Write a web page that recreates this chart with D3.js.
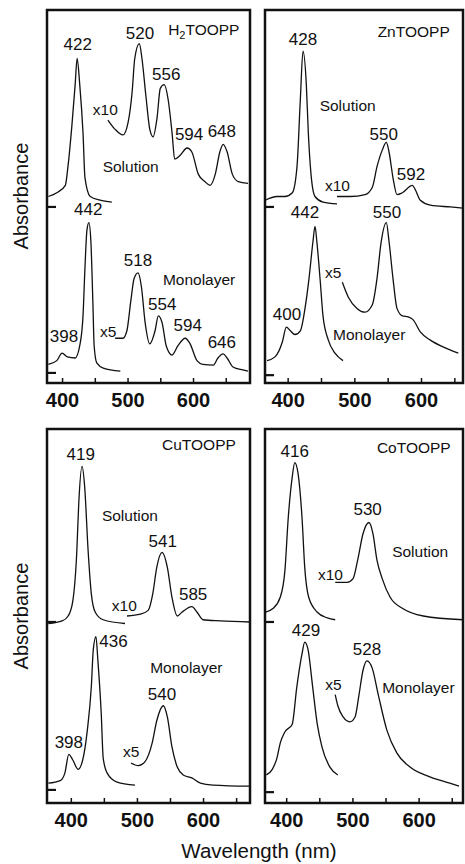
<!DOCTYPE html>
<html>
<head>
<meta charset="utf-8">
<script src="https://cdn.jsdelivr.net/npm/d3@7/dist/d3.min.js"></script>
<style>
body { margin: 0; background: #fff; }
text { font-family: "Liberation Sans", Arial, Helvetica, sans-serif; fill: #111; }
</style>
</head>
<body>
<svg id="fig" width="465" height="864"></svg>
<script>
// Spectra: [wavelength nm, absorbance (arb., offset as plotted)]
var h2Sol = [[379,0.50],[392,0.51],[405,0.53],[409,0.58],[415,0.69],[420,0.80],[423,0.87],[427,0.80],[432,0.67],[435,0.55],[443,0.50],[458,0.49],[476,0.485]];
var h2SolX10 = [[470,0.705],[481,0.68],[493,0.665],[501,0.70],[507,0.78],[511,0.87],[518,0.91],[522,0.87],[528,0.77],[534,0.68],[539,0.66],[545,0.71],[550,0.79],[556,0.80],[562,0.76],[568,0.67],[572,0.60],[580,0.61],[591,0.63],[598,0.62],[608,0.56],[618,0.54],[626,0.53],[634,0.56],[641,0.62],[646,0.64],[652,0.62],[660,0.56],[669,0.54],[684,0.535]];
var h2Mono = [[379,0.05],[392,0.06],[400,0.08],[408,0.07],[420,0.067],[427,0.10],[432,0.18],[435,0.31],[438,0.41],[441,0.43],[444,0.38],[447,0.22],[449,0.10],[453,0.054],[463,0.04],[489,0.032]];
var h2MonoX5 = [[481,0.12],[493,0.12],[499,0.14],[505,0.22],[510,0.28],[516,0.295],[521,0.26],[527,0.16],[534,0.105],[542,0.14],[547,0.18],[553,0.16],[559,0.10],[568,0.075],[577,0.10],[588,0.12],[595,0.107],[606,0.06],[615,0.05],[631,0.048],[638,0.067],[646,0.078],[652,0.067],[661,0.043],[676,0.035],[684,0.032]];

var znSol = [[366,0.49],[384,0.50],[396,0.50],[407,0.51],[414,0.58],[419,0.76],[423,0.89],[428,0.80],[431,0.67],[435,0.56],[441,0.50],[453,0.485],[474,0.48]];
var znSolX10 = [[474,0.50],[494,0.50],[516,0.505],[527,0.525],[534,0.58],[542,0.625],[548,0.645],[552,0.62],[558,0.55],[564,0.505],[572,0.51],[587,0.53],[591,0.52],[599,0.49],[614,0.477],[644,0.472],[663,0.469]];
var znMono = [[369,0.06],[381,0.07],[392,0.11],[398,0.15],[404,0.14],[411,0.13],[419,0.14],[426,0.20],[432,0.28],[438,0.38],[441,0.42],[444,0.375],[449,0.27],[453,0.18],[461,0.115],[471,0.08],[483,0.06]];
var znMonoX5 = [[482,0.27],[491,0.23],[504,0.20],[516,0.19],[527,0.21],[534,0.28],[540,0.375],[548,0.43],[552,0.38],[558,0.28],[564,0.20],[572,0.18],[581,0.177],[588,0.17],[599,0.137],[614,0.115],[633,0.097],[656,0.08]];

var cuSol = [[366,0.48],[387,0.487],[396,0.50],[403,0.54],[409,0.67],[412,0.80],[417,0.90],[421,0.845],[426,0.68],[431,0.56],[437,0.51],[449,0.49],[482,0.48]];
var cuSolX10 = [[485,0.50],[505,0.505],[517,0.515],[524,0.56],[530,0.63],[538,0.67],[546,0.63],[553,0.55],[561,0.50],[568,0.51],[583,0.525],[591,0.51],[600,0.49],[626,0.487],[671,0.484]];
var cuMono = [[366,0.053],[384,0.06],[391,0.08],[397,0.13],[403,0.115],[411,0.09],[418,0.115],[425,0.195],[431,0.31],[434,0.41],[438,0.445],[441,0.38],[446,0.24],[449,0.12],[455,0.08],[470,0.056],[497,0.048]];
var cuMonoX5 = [[491,0.107],[502,0.10],[512,0.11],[523,0.16],[530,0.22],[540,0.26],[546,0.23],[553,0.15],[561,0.096],[570,0.075],[583,0.067],[596,0.053],[615,0.048],[671,0.045]];

var coSol = [[368,0.51],[380,0.52],[391,0.55],[398,0.62],[403,0.76],[409,0.87],[413,0.91],[418,0.88],[424,0.76],[428,0.63],[434,0.55],[447,0.51],[462,0.495],[474,0.49]];
var coSolX10 = [[474,0.59],[492,0.59],[501,0.60],[508,0.65],[516,0.72],[525,0.75],[531,0.72],[537,0.65],[545,0.60],[557,0.55],[576,0.52],[607,0.50],[667,0.49]];
var coMono = [[370,0.075],[379,0.09],[386,0.12],[391,0.16],[398,0.19],[409,0.21],[416,0.31],[424,0.40],[428,0.43],[433,0.41],[440,0.31],[447,0.21],[454,0.15],[466,0.096],[478,0.075]];
var coMonoX5 = [[474,0.29],[478,0.26],[486,0.23],[496,0.217],[504,0.23],[510,0.29],[516,0.355],[522,0.38],[530,0.36],[539,0.29],[552,0.195],[567,0.134],[587,0.096],[617,0.07],[647,0.053],[661,0.045]];

// zero markers for each spectrum
var h2Zero = [0.472, 0.027];
var znZero = [0.472, 0.021];
var cuZero = [0.484, 0.035];
var coZero = [0.484, 0.029];

// annotations: [text, wavelength, absorbance, anchor]
var h2Labels = [["H_2TOOPP",562,0.933,"start"],["422",424,0.893],["520",519,0.922],["556",559,0.812],["594",594,0.651],["648",644,0.660],
  ["x10",447,0.718,"start"],["Solution",462,0.566,"start"],["442",440,0.450],["518",516,0.314],["Monolayer",554,0.263,"start"],
  ["554",553,0.196],["594",592,0.139],["646",644,0.094],["398",403,0.110],["x5",458,0.123,"start"]];
var znLabels = [["ZnTOOPP",535,0.928,"start"],["428",423,0.906],["Solution",448,0.729,"start"],["550",544,0.651],["592",585,0.544],
  ["x10",456,0.515,"start"],["442",426,0.442],["550",549,0.442],["x5",456,0.282,"start"],["400",399,0.169],["Monolayer",468,0.115,"start"]];
var cuLabels = [["CuTOOPP",538,0.944,"start"],["419",415,0.917],["Solution",447,0.754,"start"],["541",539,0.684],["585",585,0.543],
  ["x10",462,0.513,"start"],["436",443,0.417,"start"],["Monolayer",520,0.348,"start"],["540",538,0.275],["398",397,0.147],["x5",479,0.123,"start"]];
var coLabels = [["CoTOOPP",537,0.936,"start"],["416",413,0.925],["530",523,0.770],["Solution",560,0.658,"start"],["x10",448,0.596,"start"],
  ["429",430,0.447],["528",522,0.396],["x5",459,0.302,"start"],["Monolayer",545,0.294,"start"]];

var ticks = [400, 450, 500, 550, 600, 650];

var svg = d3.select("#fig");
svg.append("rect").attr("width", 465).attr("height", 864).attr("fill", "#fff");

var panels = [
  {x0: 47, x1: 250, y0: 10, y1: 383, domain: [377, 687], curves: [h2Sol, h2SolX10, h2Mono, h2MonoX5], zeros: h2Zero, labels: h2Labels},
  {x0: 265, x1: 463, y0: 10, y1: 383, domain: [366, 663], curves: [znSol, znSolX10, znMono, znMonoX5], zeros: znZero, labels: znLabels},
  {x0: 47, x1: 250, y0: 429, y1: 803, domain: [364, 671], curves: [cuSol, cuSolX10, cuMono, cuMonoX5], zeros: cuZero, labels: cuLabels},
  {x0: 265, x1: 463, y0: 429, y1: 803, domain: [368, 667], curves: [coSol, coSolX10, coMono, coMonoX5], zeros: coZero, labels: coLabels}
];

panels.forEach(drawPanel);

function drawPanel(p) {
  var x = d3.scaleLinear().domain(p.domain).range([p.x0, p.x1]);
  var y = d3.scaleLinear().domain([0, 1]).range([p.y1, p.y0]);
  var g = svg.append("g");

  var line = d3.line()
    .x(d => x(d[0]))
    .y(d => y(d[1]))
    .curve(d3.curveMonotoneX);

  p.curves.forEach(function (c) {
    g.append("path").datum(c)
      .attr("d", line)
      .attr("fill", "none")
      .attr("stroke", "#111")
      .attr("stroke-width", 1.3);
  });

  p.zeros.forEach(function (z) {
    g.append("line")
      .attr("x1", p.x0).attr("x2", p.x0 + 9)
      .attr("y1", y(z)).attr("y2", y(z))
      .attr("stroke", "#111").attr("stroke-width", 2.2);
  });

  var axis = d3.axisBottom(x)
    .tickValues(ticks)
    .tickSize(-5)
    .tickPadding(10)
    .tickFormat(d => d % 100 ? "" : d);

  g.append("g")
    .attr("transform", "translate(0," + p.y1 + ")")
    .call(axis)
    .call(a => a.select(".domain").remove())
    .call(a => a.selectAll("line").attr("stroke", "#111").attr("stroke-width", 1.5))
    .call(a => a.selectAll("text")
      .attr("font-size", 20)
      .attr("font-weight", "bold")
      .attr("fill", "#111"));

  g.append("rect")
    .attr("x", p.x0).attr("y", p.y0)
    .attr("width", p.x1 - p.x0).attr("height", p.y1 - p.y0)
    .attr("fill", "none")
    .attr("stroke", "#111")
    .attr("stroke-width", 2.5);

  p.labels.forEach(function (l) {
    var isNum = /^\d+$/.test(l[0]);
    var t = g.append("text")
      .attr("x", x(l[1]))
      .attr("y", y(l[2]))
      .attr("text-anchor", l[3] || "middle")
      .attr("font-size", isNum ? 17 : 15.5);
    if (l[0].indexOf("_") >= 0) {
      var parts = l[0].split("_");
      t.append("tspan").text(parts[0]);
      t.append("tspan").attr("font-size", 11).attr("dy", 4).text(parts[1][0]);
      t.append("tspan").attr("dy", -4).text(parts[1].slice(1));
    } else {
      t.text(l[0]);
    }
  });
}

// axis titles
[196, 616].forEach(function (cy) {
  svg.append("text")
    .attr("transform", "translate(28," + cy + ") rotate(-90)")
    .attr("text-anchor", "middle")
    .attr("font-size", 20)
    .text("Absorbance");
});

svg.append("text")
  .attr("x", 259).attr("y", 858)
  .attr("text-anchor", "middle")
  .attr("font-size", 20.5)
  .text("Wavelength (nm)");
</script>
</body>
</html>
